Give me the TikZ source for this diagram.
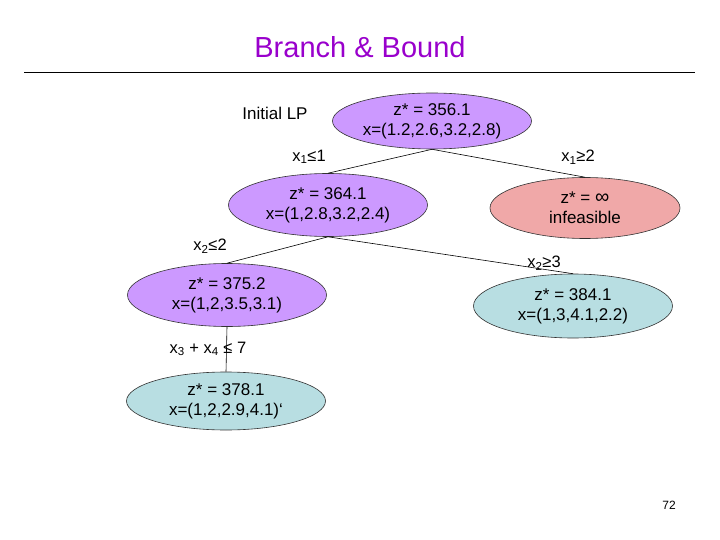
\documentclass[tikz,border=0pt]{standalone}
\usepackage{fontspec}
\setmainfont{Liberation Sans}
\usetikzlibrary{shapes.geometric}
\definecolor{lpviolet}{RGB}{204,153,255}
\definecolor{lppink}{RGB}{240,168,168}
\definecolor{lpblue}{RGB}{184,222,226}
\definecolor{titleviolet}{RGB}{153,0,204}

\begin{document}
\begin{tikzpicture}[x=1pt, y=-1pt,
every node/.style = {font=\fontsize{17}{20}\selectfont, align=center},
lpnode/.style = {ellipse, draw=black!80, line width=0.6pt,
	inner sep=0pt, minimum width=199pt, minimum height=60pt},
branch/.style = {font=\fontsize{16.5}{18}\selectfont},
edge/.style = {line width=0.6pt}]

\useasboundingbox (0,0) rectangle (720,540);

\node[font=\fontsize{29}{34}\selectfont, text=titleviolet] (title) at (360,47) {Branch \& Bound};
\draw[line width=0.7pt] (24,72) -- (695,72);

\node (init) at (275,113) {Initial LP};
\node[lpnode, fill=lpviolet, minimum height=56pt] (lp0) at (432,121) {z* = 356.1\\x=(1.2,2.6,3.2,2.8)};
\node[lpnode, fill=lpviolet, minimum height=63pt] (lp1) at (328,205) {z* = 364.1\\x=(1,2.8,3.2,2.4)};
\node[lpnode, fill=lppink, minimum width=190pt, minimum height=61pt] (lp2) at (585,208) {z* = {\fontsize{20}{20}\selectfont ∞}\\infeasible};
\node[lpnode, fill=lpviolet, minimum height=63pt] (lp3) at (227,295) {z* = 375.2\\x=(1,2,3.5,3.1)};
\node[lpnode, fill=lpblue, minimum height=64pt] (lp4) at (573,306) {z* = 384.1\\x=(1,3,4.1,2.2)};
\node[lpnode, fill=lpblue, minimum height=58pt] (lp5) at (226,401) {z* = 378.1\\x=(1,2,2.9,4.1)\symbol{96}};

% branching constraints
\node[branch] (b1) at (309,157) {x\textsubscript{1}≤1};
\node[branch] (b2) at (578,157) {x\textsubscript{1}≥2};
\node[branch] (b3) at (210,246) {x\textsubscript{2}≤2};
\node[branch] (b4) at (544,263) {x\textsubscript{2}≥3};
\node[branch] (b5) at (208,349) {x\textsubscript{3} + x\textsubscript{4} ≤ 7};

\draw[edge] (lp0.south) -- (lp1.north);
\draw[edge] (lp0.south) -- (lp2.north);
\draw[edge] (lp1.south) -- (lp3.north);
\draw[edge] (lp1.south) -- (lp4.north);
\draw[edge] (lp3.south) -- (lp5.north);

\node[font=\fontsize{12}{14}\selectfont] (page) at (669,505) {72};
\end{tikzpicture}
\end{document}
